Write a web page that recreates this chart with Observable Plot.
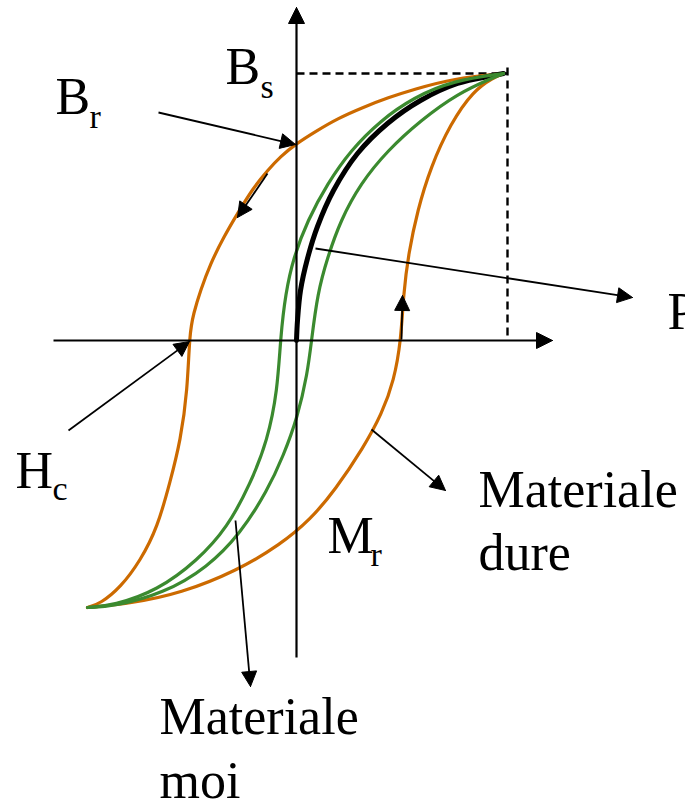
<!DOCTYPE html>
<html>
<head>
<meta charset="utf-8">
<script src="https://cdn.jsdelivr.net/npm/d3@7"></script>
<script src="https://cdn.jsdelivr.net/npm/@observablehq/plot@0.6"></script>
<style>
  html, body { margin: 0; padding: 0; background: #fff; }
  #chart svg { display: block; }
</style>
</head>
<body>
<div id="chart"></div>
<script>
// ---- Data (H = field, B = induction) ----
// Hard material loop (orange): descending branch from saturation
const hardDown = [[207,267],[157,262],[117,251],[92,243],[66,233],[41,222],[19,209],[0,197],[-16,184],[-29,170],[-43,153],[-59,127],[-73,103],[-86,77],[-96,50],[-103,27],[-107,7],[-109,-50],[-116,-100],[-126,-140],[-139,-187],[-156,-220],[-176,-247],[-196,-263],[-209,-267]];
// Hard material loop (orange): ascending branch back to saturation
const hardUp = [[-209,-267],[-166,-263],[-116,-253],[-59,-230],[-16,-204],[14,-179],[39,-149],[67,-107],[85.5,-73],[97.5,-40],[104.5,0],[107,47],[112,87],[121,130],[134,173],[154,217],[177,250],[197,263],[207,267]];
// Soft material loop (green)
const softDown = [[207,267],[157,260],[117,243],[84,220],[54,190],[31,157],[11,120],[-3,83],[-11,47],[-16,3],[-19,-50],[-29,-100],[-46,-143],[-69,-187],[-99,-220],[-139,-250],[-183,-265],[-209,-267]];
const softUp = [[-209,-267],[-183,-266],[-133,-253],[-89,-227],[-56,-193],[-29,-150],[-13,-115],[1,-77],[11,-33],[15,0],[21,47],[31,83],[44,120],[64,157],[91,190],[124,220],[161,247],[197,263],[207,267]];
// First magnetization curve (black)
const firstCurve = [[0,0],[1,20],[4,50],[11,82],[21,114],[37,150],[61,187],[91,217],[124,240],[161,257],[197,265],[207,267]];

// Saturation guides
const Hs = 211, Bs = 267;
const guides = [
  {x1: 0, y1: Bs, x2: Hs, y2: Bs},
  {x1: Hs, y1: Bs + 6, x2: Hs, y2: 0}
];

// Axes and annotation arrows (start -> tip)
const axesArrows = [
  {x1: -243, y1: 0, x2: 256, y2: 0},
  {x1: 0, y1: -317, x2: 0, y2: 333}
];
const noteArrows = [
  {x1: -138, y1: 228, x2: -1, y2: 196},   // B_r
  {x1: -228, y1: -90, x2: -107, y2: -1},  // H_c
  {x1: 75, y1: -89, x2: 149, y2: -150},   // Materiale dure
  {x1: -61, y1: -180, x2: -46, y2: -346}, // Materiale moi
  {x1: 19, y1: 92, x2: 336, y2: 43},      // P
  {x1: -29, y1: 167, x2: -59, y2: 123},   // direction on loop (down)
  {x1: 105, y1: 1, x2: 106, y2: 45}       // direction on loop (up)
];

// Labels
const labelText = ["B", "B", "H", "M", "P", "Materiale", "dure", "Materiale", "moi"];
const labelX    = [-71, -241, -281, 31, 371, 182, 182, -137, -137];
const labelY    = [257, 227, -147, -212, 12, -166, -229, -393, -457];
const subText = ["s", "r", "c", "r"];
const subX    = [-36, -207, -244, 74];
const subY    = [243, 213, -159, -225];

// ---- Build ----
const ORANGE = "#cc6a00", GREEN = "#3b8a2f";
const FONT = '"Liberation Serif","Times New Roman",serif';

function heads(arrows, L, W) {
  const pts = [];
  arrows.forEach((a, i) => {
    const dx = a.x2 - a.x1, dy = a.y2 - a.y1, len = Math.hypot(dx, dy);
    const ux = dx / len, uy = dy / len, px = -uy, py = ux;
    const bx = a.x2 - L * ux, by = a.y2 - L * uy;
    pts.push({id: i, x: a.x2, y: a.y2});
    pts.push({id: i, x: bx + W * px, y: by + W * py});
    pts.push({id: i, x: bx - W * px, y: by - W * py});
    pts.push({id: i, x: a.x2, y: a.y2});
  });
  return pts;
}
function shafts(arrows, L) {
  return arrows.map(a => {
    const dx = a.x2 - a.x1, dy = a.y2 - a.y1, len = Math.hypot(dx, dy);
    return {x1: a.x1, y1: a.y1, x2: a.x2 - (L - 3) * dx / len, y2: a.y2 - (L - 3) * dy / len};
  });
}
const labels = labelText.map((t, i) => ({t, x: labelX[i], y: labelY[i]}));
const subs = subText.map((t, i) => ({t, x: subX[i], y: subY[i]}));
const px = d => d[0], py = d => d[1];

const chart = Plot.plot({
  width: 685,
  height: 799,
  margin: 0,
  x: {domain: [-296, 389], axis: null},
  y: {domain: [-459, 340], axis: null},
  style: {background: "#fff", fontFamily: FONT},
  marks: [
    Plot.link(guides, {x1: "x1", y1: "y1", x2: "x2", y2: "y2", stroke: "black", strokeWidth: 2.4, strokeDasharray: "8,5"}),
    Plot.line(hardDown, {x: px, y: py, curve: "basis", stroke: ORANGE, strokeWidth: 3.2}),
    Plot.line(hardUp, {x: px, y: py, curve: "basis", stroke: ORANGE, strokeWidth: 3.2}),
    Plot.line(firstCurve, {x: px, y: py, curve: "catmull-rom", stroke: "black", strokeWidth: 5}),
    Plot.line(softDown, {x: px, y: py, curve: "basis", stroke: GREEN, strokeWidth: 3.2}),
    Plot.line(softUp, {x: px, y: py, curve: "basis", stroke: GREEN, strokeWidth: 3.2}),
    Plot.link(shafts(axesArrows, 16), {x1: "x1", y1: "y1", x2: "x2", y2: "y2", stroke: "black", strokeWidth: 2.2}),
    Plot.line(heads(axesArrows, 16, 8), {x: "x", y: "y", z: "id", fill: "black", stroke: "black", strokeWidth: 1}),
    Plot.link(shafts(noteArrows, 15), {x1: "x1", y1: "y1", x2: "x2", y2: "y2", stroke: "black", strokeWidth: 1.8}),
    Plot.line(heads(noteArrows, 15, 7.5), {x: "x", y: "y", z: "id", fill: "black", stroke: "black", strokeWidth: 1}),
    Plot.text(labels, {x: "x", y: "y", text: "t", textAnchor: "start", lineAnchor: "bottom", fontSize: 52, fill: "black", fontFamily: FONT}),
    Plot.text(subs, {x: "x", y: "y", text: "t", textAnchor: "start", lineAnchor: "bottom", fontSize: 34, fill: "black", fontFamily: FONT})
  ]
});
document.getElementById("chart").appendChild(chart);
</script>
</body>
</html>
